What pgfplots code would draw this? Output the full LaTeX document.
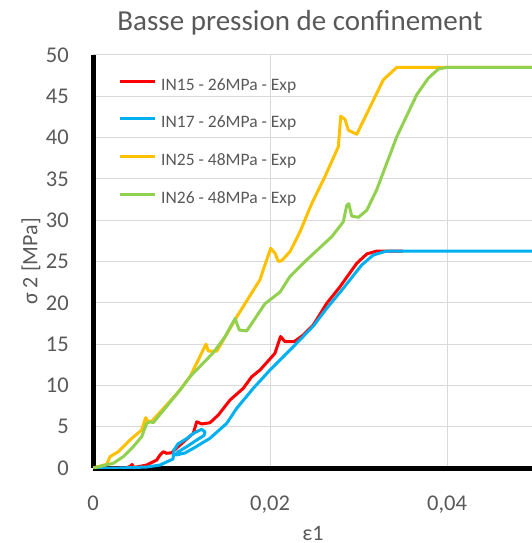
\documentclass[border=0pt]{standalone}
\usepackage{pgfplots}
\pgfplotsset{compat=1.18}
\usepackage{fontspec}
\setmainfont{Carlito}
\definecolor{txtgray}{HTML}{595959}
\definecolor{cred}{HTML}{FF0000}
\definecolor{cblue}{HTML}{00B0F0}
\definecolor{cyellow}{HTML}{FFC000}
\definecolor{cgreen}{HTML}{92D050}
\definecolor{gridgray}{HTML}{D9D9D9}
\begin{document}
\begin{tikzpicture}
\path[use as bounding box] (0pt,0pt) rectangle (532pt,543pt);
\begin{axis}[
  at={(93pt,75pt)}, anchor=south west,
  scale only axis, width=439pt, height=413pt,
  xmin=0, xmax=0.0496, ymin=0, ymax=50,
  axis lines=left,
  axis line style={-, line width=5pt, black},
  xtick={0,0.02,0.04}, xticklabels={0,{0,02},{0,04}},
  ytick={0,5,...,50},
  grid=major, major grid style={color=gridgray, line width=1pt},
  major tick length=0pt,
  /pgf/number format/assume math mode=true,
  ticklabel style={font=\fontsize{22.5}{26}\selectfont, text=txtgray},
  yticklabel style={anchor=east, inner sep=0pt, xshift=-24pt},
  xticklabel style={anchor=base, inner sep=0pt, yshift=-42pt},
  title={Basse pression de confinement},
  title style={at={(axis description cs:0.4715,1)}, anchor=base, yshift=18pt, font=\fontsize{29}{34}\selectfont, text=txtgray},
  xlabel={ε1},
  xlabel style={at={(axis description cs:0.501,0)}, anchor=center, yshift=-65pt, font=\fontsize{22}{26}\selectfont, text=txtgray},
  ylabel={σ 2 [MPa]},
  ylabel style={at={(axis description cs:-0.1412,0.5)}, anchor=center, rotate=0, font=\fontsize{22}{26}\selectfont, text=txtgray},
  legend cell align=left,
  legend image code/.code={\draw[#1] (0pt,5pt) -- (35pt,5pt);},
  legend style={draw=none, fill=none, at={(axis description cs:0,1)}, anchor=north west,
    xshift=22pt, yshift=-22pt, row sep=23.7pt, column sep=5pt,
    nodes={inner sep=0pt, text height=11pt, text depth=3pt},
    font=\fontsize{17.5}{20}\selectfont, text=txtgray},
  every axis plot/.append style={line width=3pt, line join=round},
]
\addplot[cred] coordinates {
(0,0) (0.00362,0) (0.00418,0.18) (0.00441,0.42) (0.00463,0.06) (0.00607,0.36)
(0.0072,0.97) (0.00757,1.57) (0.00794,1.97) (0.00833,1.78) (0.00889,1.85)
(0.00983,2.78) (0.01133,4.2) (0.01172,5.6) (0.01228,5.33) (0.01322,5.48)
(0.01416,6.42) (0.01548,8.23) (0.01698,9.65) (0.01793,11.05) (0.01887,11.86)
(0.02056,13.89) (0.02119,15.92) (0.0217,15.29) (0.02271,15.29) (0.02376,16.1)
(0.02489,17.31) (0.02641,19.94) (0.02791,21.95) (0.0298,24.78) (0.03093,25.91)
(0.03206,26.27) (0.035,26.27)
};
\addlegendentry{IN15 - 26MPa - Exp}
\addplot[cblue] coordinates {
(0,0) (0.00305,0) (0.00607,0.12) (0.00757,0.36) (0.00904,1.09) (0.00915,2.18)
(0.0096,2.91) (0.01051,3.51) (0.01141,4.24) (0.01228,4.69) (0.01266,4.36)
(0.01254,3.93) (0.01172,3.39) (0.01059,2.58) (0.0096,1.94) (0.00938,1.57)
(0.0104,1.82) (0.01133,2.38) (0.01322,3.6) (0.01511,5.41) (0.01624,7.23)
(0.01811,9.65) (0.02,11.86) (0.02263,14.69) (0.02489,17.19) (0.02641,19.33)
(0.02828,21.76) (0.03036,24.58) (0.03167,25.79) (0.03319,26.27) (0.05,26.27)
};
\addlegendentry{IN17 - 26MPa - Exp}
\addplot[cyellow] coordinates {
(0,0) (0.00155,0.45) (0.00192,1.37) (0.00286,1.97) (0.00418,3.39) (0.0055,4.6)
(0.00595,6.09) (0.00625,5.6) (0.00667,5.7) (0.0083,7.6) (0.00983,9.44)
(0.01096,11.05) (0.0119,13.1) (0.01277,15.0) (0.01303,14.16) (0.0140,14.16)
(0.01624,18.3) (0.01887,22.8) (0.01924,24.0) (0.02008,26.6) (0.02056,26.0)
(0.02094,25.0) (0.02132,25.1) (0.02226,26.2) (0.02339,28.6) (0.02471,32.0)
(0.02621,35.3) (0.02772,38.9) (0.02799,42.6) (0.02847,42.2) (0.02885,40.9)
(0.0298,40.4) (0.0328,47.0) (0.03432,48.5) (0.05,48.5)
};
\addlegendentry{IN25 - 48MPa - Exp}
\addplot[cgreen] coordinates {
(0,0) (0.00229,0.57) (0.00342,1.37) (0.00455,2.58) (0.0055,3.79) (0.00607,5.41)
(0.00652,5.6) (0.00681,5.48) (0.00983,9.44) (0.01096,11.05) (0.01133,11.46)
(0.01359,13.96) (0.01492,15.9) (0.01605,18.1) (0.01653,16.7) (0.01737,16.6)
(0.01944,19.9) (0.02113,21.3) (0.02226,23.2) (0.02415,25.2) (0.02697,28.0)
(0.02828,29.8) (0.02867,31.8) (0.0289,32.0) (0.02923,30.5) (0.02998,30.35)
(0.03093,31.2) (0.03206,33.7) (0.03432,40.1) (0.03658,45.2) (0.03789,47.2)
(0.03902,48.3) (0.04,48.5) (0.05,48.5)
};
\addlegendentry{IN26 - 48MPa - Exp}
\end{axis}
\end{tikzpicture}
\end{document}
